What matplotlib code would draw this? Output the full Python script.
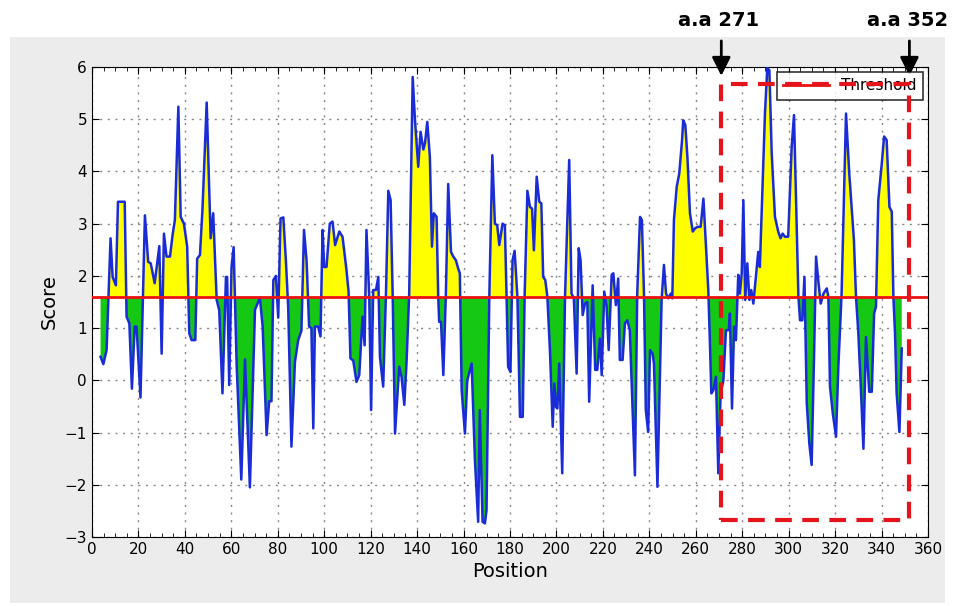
import matplotlib
matplotlib.use("Agg")
import matplotlib.pyplot as plt
from matplotlib.patches import Rectangle
from matplotlib.ticker import MultipleLocator

plt.rcParams['font.family'] = ['DejaVu Sans']

# ===== data =====
POSITION = [
    3.7, 4.9, 6.3, 8.0, 8.9, 10.3, 11.2, 14.1, 14.9, 16.1, 17.2, 18.4, 19.2, 20.9,
    22.8, 24.2, 25.3, 27.0, 29.0, 30.0, 31.0, 32.1, 33.6, 34.7, 35.7, 37.2, 38.2,
    39.6, 41.0, 41.9, 42.9, 44.5, 45.3, 46.5, 47.6, 49.4, 51.1, 52.2, 53.7, 54.8,
    56.2, 57.7, 58.2, 59.1, 60.1, 61.0, 62.3, 64.3, 65.9, 68.0, 70.2, 72.3, 73.5,
    75.2, 76.3, 77.3, 78.1, 79.2, 80.2, 81.2, 82.4, 83.5, 84.5, 85.9, 87.4, 88.8,
    90.2, 91.3, 92.4, 93.5, 94.5, 95.3, 96.0, 97.4, 98.4, 99.3, 100.0, 101.0, 102.4,
    103.6, 104.7, 106.5, 107.9, 109.6, 110.5, 111.3, 112.5, 113.9, 115.1, 116.5,
    117.4, 118.2, 119.4, 120.2, 121.1, 122.3, 123.3, 124.0, 125.4, 126.6, 127.6,
    128.6, 129.5, 130.5, 132.3, 133.3, 134.5, 135.5, 136.6, 138.1, 139.1, 140.5,
    141.5, 142.7, 143.4, 144.4, 145.5, 146.4, 147.2, 148.4, 149.1, 149.5, 150.3,
    151.3, 152.4, 153.4, 154.6, 155.6, 156.7, 157.7, 158.4, 159.2, 160.6, 161.6,
    163.5, 164.9, 166.3, 167.0, 168.2, 169.2, 169.9, 171.1, 172.4, 173.5, 174.5,
    175.4, 176.8, 177.8, 178.5, 179.2, 180.2, 181.1, 182.0, 183.2, 184.3, 185.5,
    186.3, 187.5, 188.6, 189.5, 190.3, 191.5, 192.6, 193.5, 194.3, 195.2, 196.1,
    197.2, 198.4, 199.1, 199.8, 200.4, 201.2, 202.5, 203.7, 205.5, 206.5, 207.5,
    208.7, 209.6, 210.4, 211.3, 212.3, 213.3, 214.1, 215.6, 216.7, 217.6, 218.7,
    219.5, 220.6, 221.6, 222.5, 223.8, 224.5, 225.6, 226.6, 227.3, 228.5, 229.5,
    230.5, 231.6, 233.8, 234.8, 236.0, 236.8, 237.7, 238.5, 239.5, 240.3, 241.4,
    242.0, 243.5, 245.3, 246.3, 247.2, 248.2, 249.2, 249.9, 250.6, 251.8, 252.9,
    254.1, 254.6, 255.5, 256.4, 257.5, 258.7, 259.7, 260.8, 262.1, 263.3, 264.4,
    265.4, 266.1, 266.7, 267.6, 268.7, 269.7, 270.7, 271.9, 273.0, 274.2, 274.7,
    275.6, 276.5, 277.3, 278.3, 279.0, 279.8, 280.5, 281.3, 282.2, 283.1, 283.9,
    284.8, 285.9, 286.9, 287.6, 288.8, 289.8, 290.8, 291.7, 292.7, 294.1, 295.5,
    296.5, 297.4, 298.4, 299.8, 301.3, 302.3, 303.2, 304.2, 304.9, 305.9, 306.8,
    307.8, 308.9, 309.9, 310.9, 311.8, 312.8, 313.8, 315.0, 316.4, 317.1, 317.8,
    319.0, 320.4, 321.4, 322.8, 324.7, 326.1, 328.1, 329.0, 330.0, 331.0, 332.2,
    333.3, 334.7, 335.8, 336.8, 337.6, 338.6, 340.1, 341.1, 342.2, 343.4, 344.4,
    345.1, 345.8, 346.5, 347.7, 348.7,
]
SCORE = [
    0.45, 0.31, 0.58, 2.72, 1.98, 1.82, 3.42, 3.42, 1.22, 1.09, -0.16, 1.03, 1.03, -0.33,
    3.16, 2.27, 2.24, 1.86, 2.57, 0.51, 2.81, 2.37, 2.37, 2.78, 3.07, 5.24, 3.13,
    3.00, 2.56, 0.90, 0.77, 0.77, 2.33, 2.40, 3.29, 5.32, 2.72, 3.20, 1.54, 1.34,
    -0.25, 1.98, 1.98, -0.09, 2.17, 2.55, 0.30, -1.90, 0.40, -2.05, 1.35, 1.58, 1.03,
    -1.05, -0.40, -0.40, 1.92, 2.00, 1.20, 3.10, 3.12, 2.30, 1.40, -1.27, 0.35, 0.77,
    0.95, 2.88, 2.30, 1.03, 1.00, -0.92, 1.03, 1.03, 0.84, 2.88, 2.17, 2.17, 3.00,
    3.04, 2.59, 2.85, 2.75, 2.11, 1.70, 0.42, 0.38, -0.03, 0.10, 1.22,
    0.67, 2.88, 1.60, -0.57, 1.73, 1.73, 1.98, 0.45, -0.12, 1.66, 3.63,
    3.45, 1.60, -1.02, 0.26, 0.07, -0.47, 0.39, 1.66, 5.81, 4.98, 4.09,
    4.76, 4.42, 4.54, 4.95, 4.28, 2.56, 3.20, 3.13, 1.60, 1.12, 1.12,
    0.10, 1.66, 3.76, 2.46, 2.37, 2.30, 2.14, 2.05, -0.19, -1.02, 0.00,
    0.32, -1.53, -2.71, -0.57, -2.71, -2.74, -2.49, 1.60, 4.31, 3.00, 2.97,
    2.59, 3.00, 2.97, 1.66, 0.26, 0.16, 2.30, 2.48, 1.60, -0.70, -0.70,
    1.60, 3.63, 3.32, 3.29, 2.49, 3.90, 3.42, 3.39, 1.98, 1.92, 1.60,
    0.58, -0.89, -0.06, -0.51, -0.54, 0.32, -1.78, 1.60, 4.22, 1.66, 1.57,
    0.13, 2.53, 2.30, 1.25, 1.47, 1.50, -0.41, 1.82, 0.20, 0.20, 0.80,
    0.10, 1.70, 1.41, 0.58, 2.02, 2.05, 1.44, 1.95, 0.39, 0.39, 1.09,
    1.15, 0.96, -1.82, 1.66, 3.13, 3.07, 1.66, -0.57, -0.99, 0.58, 0.51,
    0.32, -2.04, 1.54, 2.21, 1.66, 1.57, 1.66, 1.57, 3.07, 3.71, 3.96,
    4.60, 4.98, 4.89, 4.28, 3.20, 2.85, 2.91, 2.94, 2.94, 3.48, 2.56,
    1.73, 0.71, -0.25, -0.19, 0.07, -1.78, -0.25, 0.00, 0.96, 0.96, 1.28,
    -0.54, 1.03, 0.77, 2.02, 1.66, 2.05, 3.45, 1.54, 2.24, 1.54, 1.73,
    1.47, 1.98, 2.46, 2.17, 3.77, 5.11, 5.98, 5.94, 4.35, 3.13, 2.85,
    2.72, 2.81, 2.75, 2.75, 4.47, 5.08, 3.39, 1.60, 1.15, 1.15, 1.98,
    -0.44, -1.21, -1.62, 0.39, 2.37, 1.89, 1.47, 1.66, 1.76, 1.60, -0.12,
    -0.63, -1.08, 0.26, 1.66, 5.11, 3.96, 2.69, 1.60, 0.90, -0.06, -1.31,
    0.83, -0.22, -0.22, 1.28, 1.41, 3.45, 4.15, 4.67, 4.60, 3.32, 3.23,
    1.60, 0.90, -0.25, -0.99, 0.61,
]
THRESHOLD = 1.6
REGION = (271, 352)
REGION_LABELS = ["a.a 271", "a.a 352"]

fig = plt.figure(figsize=(9.56, 6.06), dpi=100, facecolor="white")
# light grey panel behind the plot
fig.patches.append(Rectangle((0.0105, 0.005), 0.978, 0.934, transform=fig.transFigure,
                             facecolor="#ececec", edgecolor="none", zorder=-10))
ax = fig.add_axes([0.0962, 0.1139, 0.8745, 0.7755])

thr = [THRESHOLD] * len(POSITION)
ax.fill_between(POSITION, SCORE, thr, where=[s >= THRESHOLD for s in SCORE],
                interpolate=True, color="#ffff00", linewidth=0, zorder=2)
ax.fill_between(POSITION, SCORE, thr, where=[s <= THRESHOLD for s in SCORE],
                interpolate=True, color="#14c814", linewidth=0, zorder=2)
ax.plot(POSITION, SCORE, color="#1a2bd8", linewidth=1.8, zorder=3)
ax.axhline(THRESHOLD, color="#ee1111", linewidth=2, label="Threshold", zorder=4)

ax.set_xlim(0, 360)
ax.set_ylim(-3, 6)
ax.xaxis.set_major_locator(MultipleLocator(20))
ax.xaxis.set_minor_locator(MultipleLocator(5))
ax.yaxis.set_major_locator(MultipleLocator(1))
ax.tick_params(which="both", direction="in", top=True, right=True, labelsize=11)
ax.tick_params(which="major", length=5)
ax.tick_params(which="minor", length=3)
ax.grid(True, which="major", color="#888888", linestyle=(0, (1.5, 4)), linewidth=1)
ax.set_axisbelow(True)
ax.set_xlabel("Position", fontsize=14)
ax.set_ylabel("Score", fontsize=14)

leg = ax.legend(loc="upper right", fontsize=11, fancybox=False, borderaxespad=0.35,
                handlelength=3)
leg.get_frame().set_edgecolor("black")
leg.get_frame().set_linewidth(1.2)

# selected region
box = Rectangle((REGION[0], -2.68), REGION[1] - REGION[0], 5.68 + 2.68,
                fill=False, edgecolor="#e3141c", linewidth=3,
                linestyle=(0, (4, 2.5)), zorder=10, clip_on=False)
ax.add_patch(box)

for pos, txt in zip(REGION, REGION_LABELS):
    ax.annotate("", xy=(pos, 5.83), xytext=(pos, 6.5), annotation_clip=False,
                arrowprops=dict(arrowstyle="-|>,head_width=0.35,head_length=0.7",
                                color="black", lw=2, mutation_scale=16,
                                shrinkA=0, shrinkB=0))
    ax.text(pos - 1, 6.9, txt, ha="center", va="center", fontsize=14,
            fontweight="bold", clip_on=False)

fig.savefig("out.png", dpi=100)
